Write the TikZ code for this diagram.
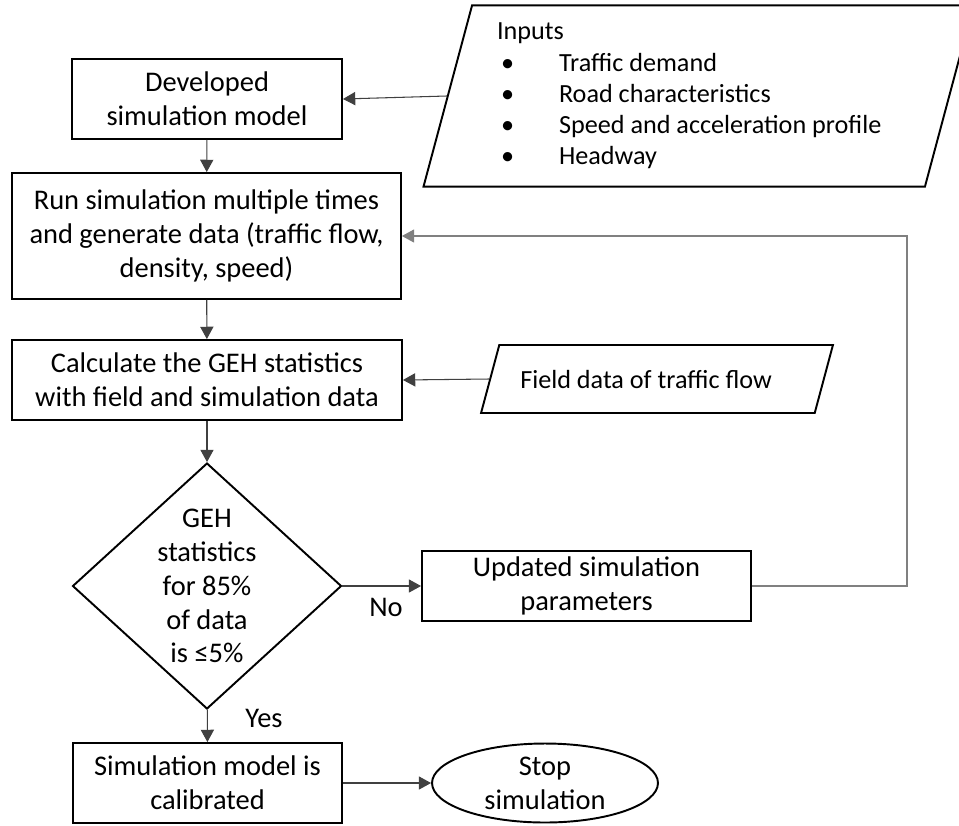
\documentclass[tikz,border=0pt]{standalone}
\usepackage{fontspec}
\setmainfont{Carlito}
\usetikzlibrary{arrows.meta,shapes.geometric}
\tikzset{
  procbox/.style={draw, line width=1.1pt, rectangle, align=center, inner sep=0pt,
    font=\fontsize{16.2}{19.3}\selectfont},
  databox/.style={draw, line width=1.1pt, trapezium, trapezium left angle=75,
    trapezium right angle=105, inner xsep=0pt, align=left,
    font=\fontsize{14.9}{17.8}\selectfont, execute at begin node={\spaceskip=0pt\xspaceskip=0pt\relax}},
  decision/.style={draw, line width=1.1pt, diamond, inner sep=0pt,
    minimum width=5.38cm, minimum height=4.92cm},
  terminal/.style={draw, line width=1.1pt, ellipse, inner sep=0pt, align=center,
    minimum width=4.52cm, minimum height=1.58cm, font=\fontsize{16.2}{19.3}\selectfont},
  flow/.style={draw=black!75, line width=0.6pt, -{Triangle[length=7pt,width=7.5pt]}},
  tag/.style={font=\fontsize{16.2}{19.3}\selectfont}
}
\newcommand{\bulletitem}[1]{\hspace*{0.58cm}\makebox[1.16cm][l]{\textbullet}#1}
\begin{document}
\begin{tikzpicture}[x=0.02cm, y=-0.02cm]
  \useasboundingbox (0,0) rectangle (959,825);
  % main column
  \node[procbox, minimum width=5.4cm, minimum height=1.6cm] (model) at (207,99)
    {Developed\\simulation model};
  \node[procbox, minimum width=7.78cm, minimum height=2.52cm] (run) at (206.5,236)
    {Run simulation multiple times\\and generate data (traffic flow,\\density, speed)};
  \node[procbox, minimum width=7.8cm, minimum height=1.6cm] (calc) at (207,380)
    {Calculate the GEH statistics\\with field and simulation data};
  \node[decision, label={[tag, align=center]center:GEH\\statistics\\for 85\%\\of data\\is ≤5\%}]
    (check) at (207,586) {};
  \node[procbox, minimum width=5.38cm, minimum height=1.6cm] (calibrated) at (207.5,783)
    {Simulation model is\\calibrated};
  \node[terminal] (stop) at (545,783) {Stop\\simulation};
  % side inputs
  \node[databox, text width=9.06cm, inner ysep=0.35cm] (inputs) at (698.5,96)
    {\hspace*{0.5cm}Inputs\\\bulletitem{Traffic demand}\\\bulletitem{Road characteristics}\\
     \bulletitem{Speed and acceleration profile}\\\bulletitem{Headway}};
  \node[databox, text width=6.31cm, text height=12pt, text depth=1.7pt, inner ysep=12.5pt]
    (field) at (657,379) {\hspace*{0.42cm}Field data of traffic flow};
  \node[procbox, minimum width=6.58cm, minimum height=1.4cm] (update) at (586.5,586)
    {Updated simulation\\parameters};
  % labels
  \node[tag] (nolabel) at (386,607) {No};
  \node[tag] (yeslabel) at (264,718) {Yes};
  % connectors
  \coordinate (backbend) at (907,236);
  \draw[flow] (inputs.west) -- (model.east);
  \draw[flow] (model) -- (run);
  \draw[flow] (run) -- (calc);
  \draw[flow] (field.west) -- (calc.east);
  \draw[flow] (calc) -- (check);
  \draw[flow] (check) -- (calibrated);
  \draw[flow] (check.east) -- (update.west);
  \draw[flow, draw=black!50] (update.east) -| (backbend) -- (run.east);
  \draw[flow] (calibrated) -- (stop);
\end{tikzpicture}
\end{document}
